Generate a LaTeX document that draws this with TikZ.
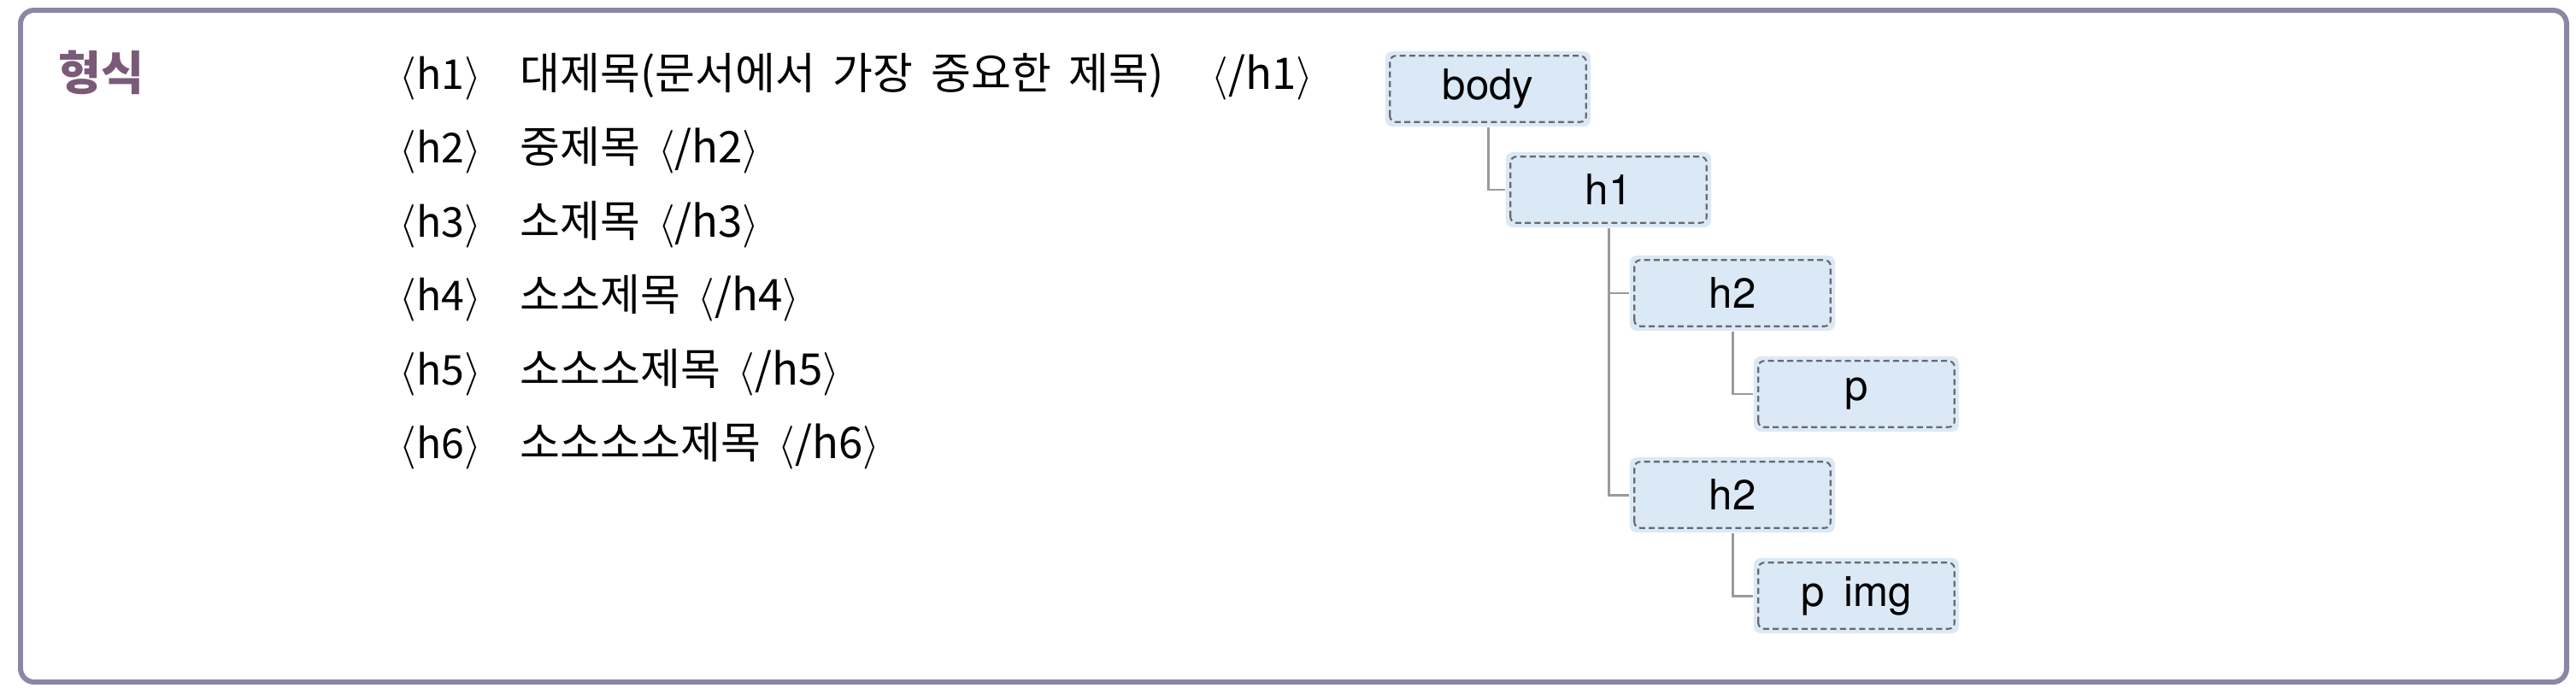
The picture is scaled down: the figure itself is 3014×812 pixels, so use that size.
\documentclass[tikz,border=0pt]{standalone}
\usepackage{fontspec}
\setmainfont{TeX Gyre Heros}
\newfontfamily\krfont{Noto Sans CJK KR}
\newfontfamily\krtext[WordSpace=1.8]{Noto Sans CJK KR}
\usetikzlibrary{positioning, calc}

\definecolor{framegray}{RGB}{138,135,163}
\definecolor{titlepurple}{RGB}{122,90,120}
\definecolor{boxblue}{RGB}{219,233,246}
\definecolor{dashgray}{RGB}{105,105,108}
\definecolor{linkgray}{RGB}{154,154,158}

\tikzset{
    tagbox/.style={fill=boxblue, rounded corners=0.08cm, minimum width=2.4cm, minimum height=0.88cm, inner sep=0pt, font=\fontsize{14}{16}\selectfont},
    dashin/.style={draw=dashgray, line width=0.6pt, dash pattern=on 2pt off 1.2pt, rounded corners=0.07cm},
    link/.style={draw=linkgray, line width=0.85pt},
    opentag/.style={anchor=base west, inner sep=0pt, font=\krfont\fontsize{13.7}{16}\selectfont},
    rowtext/.style={anchor=base west, inner sep=0pt, font=\krtext\fontsize{14.5}{16}\selectfont},
}

\begin{document}
\begin{tikzpicture}[x=0.01cm, y=-0.01cm]
    \useasboundingbox (0,0) rectangle (3014,812);
    \draw[framegray, line width=1.7pt, rounded corners=0.16cm] (24,12) rectangle (3003,798);

    \node[anchor=base west, inner sep=0pt, text=titlepurple, font=\krfont\bfseries\fontsize{15.5}{18}\selectfont] (title) at (68,105) {형식};

    % heading tags
    \foreach \n/\txt [count=\r from 0] in {1/대제목(문서에서 가장 중요한 제목)\hspace{0.7em}, 2/중제목, 3/소제목, 4/소소제목, 5/소소소제목, 6/소소소소제목} {
        \node[opentag] (open\n) at (467, {104+86.5*\r}) {$\langle$h\n$\rangle$};
        \node[rowtext] (head\n) at (608, {104+86.5*\r}) {\txt{} $\langle$/h\n$\rangle$};
    }

    % tree
    \node[tagbox] (body) at (1741,104) {body};
    \node[tagbox] (h1) at (1882,222) {h1};
    \node[tagbox] (h2a) at (2027,343) {h2};
    \node[tagbox] (p) at (2172,461) {p};
    \node[tagbox] (h2b) at (2027,579) {h2};
    \node[tagbox] (pimg) at (2172,697) {p\hspace{0.45em}img};

    \foreach \b in {body, h1, h2a, p, h2b, pimg}
        \draw[dashin] ($(\b.south west)+(6,-6)$) rectangle ($(\b.north east)+(-6,6)$);

    \draw[link] (body.south) |- (h1.west);
    \draw[link] (h1.south) |- (h2a.west);
    \draw[link] (h1.south) |- (h2b.west);
    \draw[link] (h2a.south) |- (p.west);
    \draw[link] (h2b.south) |- (pimg.west);
\end{tikzpicture}
\end{document}
